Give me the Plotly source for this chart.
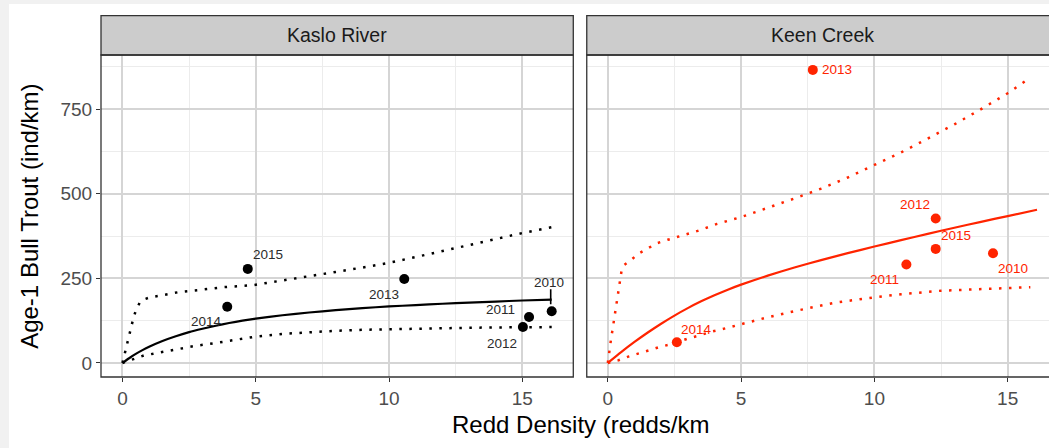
import plotly.graph_objects as go

# ---- observed points (redd density vs age-1 density) ----
years = ["2010", "2011", "2012", "2013", "2014", "2015"]

kaslo_redds = [16.1, 15.25, 15.02, 10.57, 3.93, 4.70]
kaslo_age1 = [153, 136, 106, 248, 166, 278]

keen_redds = [14.45, 11.2, 12.3, 7.69, 2.59, 12.3]
keen_age1 = [324, 291, 427, 866, 61, 337]

# ---- fitted stock-recruit curve and bounds, Kaslo River ----
kaslo_fit_x = [0, 0.25, 0.5, 0.75, 1, 1.5, 2, 2.5, 3, 3.5, 4, 4.5, 5, 6, 7, 8, 9,
               10, 11, 12, 13, 14, 15, 16.1]
kaslo_fit_y = [0, 14, 27, 38, 48, 65, 79, 91, 101, 110, 118, 125, 131, 141, 149, 156,
               162, 167, 171, 175, 178.5, 181.5, 184.5, 187]

kaslo_hi_x = [0, 0.1, 0.2, 0.29, 0.39, 0.5, 0.66, 0.85, 1.04, 1.41, 2.16, 2.91, 3.79,
              4.91, 6, 7, 8, 9, 10, 11, 12, 13, 14, 15, 16.1]
kaslo_hi_y = [0, 34, 64, 93, 126, 155, 180, 189, 194, 199, 210, 216, 224, 230, 243,
              256, 269, 282, 296, 313, 330, 348, 366, 384, 401]

kaslo_lo_x = [0, 0.4, 0.8, 1.2, 1.55, 1.9, 2.7, 3.5, 4.3, 5, 6, 7, 8, 9, 10, 11, 12,
              13, 14, 15, 16.1]
kaslo_lo_y = [0, 12, 22, 28, 33, 39, 50, 59, 69, 78, 86, 91, 95, 98, 100, 102, 103,
              104, 105, 106, 106]

# ---- fitted stock-recruit curve and bounds, Keen Creek ----
keen_fit_x = [0, 0.5, 1, 1.5, 2, 2.5, 3, 3.5, 4, 4.5, 5, 6, 7, 8, 9, 10, 11, 12, 13,
              14, 15, 16.1]
keen_fit_y = [0, 32, 62, 90, 116, 140, 162, 182, 200, 216.5, 231.5, 258, 282, 304,
              324.5, 344, 363, 381.5, 399.5, 417, 434, 452.7]

keen_hi_x = [0, 0.05, 0.12, 0.2, 0.28, 0.36, 0.44, 0.52, 0.62, 0.85, 1.15, 1.5, 1.85,
             2.25, 2.6, 3.0, 3.4, 3.75, 4.1, 5, 6, 7, 8, 9, 10, 11, 12, 13, 14, 15,
             15.85]
keen_hi_y = [0, 34, 70, 110, 155, 195, 235, 275, 290, 303, 323, 339, 354, 364, 372,
             380, 391, 401, 411, 431, 458, 486, 515, 548, 585, 622, 663, 705, 750,
             797, 843]

keen_lo_x = [0, 0.4, 0.8, 1.16, 1.54, 1.93, 2.3, 2.7, 3.08, 3.46, 3.83, 4.2, 4.58,
             4.96, 5.33, 6, 7, 7.5, 8.5, 10, 11, 12.5, 14, 15, 15.85]
keen_lo_y = [0, 8, 19.6, 27.5, 37, 47, 54, 64, 74, 81.5, 91.5, 98, 106, 115, 123,
             135, 153, 162, 178, 194, 203, 213.5, 219, 221.5, 224]

panel_titles = ["Kaslo River", "Keen Creek"]
x_ticks = [0, 5, 10, 15]
y_ticks = [0, 250, 500, 750]

# ---- styling ----
FONT = "Liberation Sans, Arial, Helvetica, sans-serif"
BLACK = "#000000"
RED = "#ff2400"
DOTS = "2.5px,7.5px"
LEFT_DOM = [0.0, 0.4982]
RIGHT_DOM = [0.5124, 1.0]

# pixel offsets of the year labels relative to their points (dx, dy up)
kaslo_label_shift = {"2010": (-3, 29), "2011": (-29, 7), "2012": (-21, -16),
                     "2013": (-20, -15), "2014": (-21, -15), "2015": (20, 14)}
keen_label_shift = {"2010": (20, -15), "2011": (-22, -15), "2012": (-21, 14),
                    "2013": (24, 0), "2014": (20, 13), "2015": (20, 13)}

fig = go.Figure()


def add_panel(xa, ya, color, fx, fy, hx, hy, lx, ly, px, py):
    fig.add_trace(go.Scatter(x=hx, y=hy, xaxis=xa, yaxis=ya, mode="lines",
                             line=dict(color=color, width=2.5, dash=DOTS),
                             hoverinfo="skip", showlegend=False))
    fig.add_trace(go.Scatter(x=lx, y=ly, xaxis=xa, yaxis=ya, mode="lines",
                             line=dict(color=color, width=2.5, dash=DOTS),
                             hoverinfo="skip", showlegend=False))
    fig.add_trace(go.Scatter(x=fx, y=fy, xaxis=xa, yaxis=ya, mode="lines",
                             line=dict(color=color, width=2.2, shape="spline",
                                       smoothing=0.5),
                             hoverinfo="skip", showlegend=False))
    fig.add_trace(go.Scatter(x=px, y=py, xaxis=xa, yaxis=ya, mode="markers",
                             marker=dict(color=color, size=10),
                             text=years, showlegend=False))


add_panel("x", "y", BLACK, kaslo_fit_x, kaslo_fit_y, kaslo_hi_x, kaslo_hi_y,
          kaslo_lo_x, kaslo_lo_y, kaslo_redds, kaslo_age1)
add_panel("x2", "y2", RED, keen_fit_x, keen_fit_y, keen_hi_x, keen_hi_y,
          keen_lo_x, keen_lo_y, keen_redds, keen_age1)

annotations = []
for yr, xv, yv in zip(years, kaslo_redds, kaslo_age1):
    dx, dy = kaslo_label_shift[yr]
    annotations.append(dict(x=xv, y=yv, xref="x", yref="y", text=yr, showarrow=False,
                            xshift=dx, yshift=dy,
                            font=dict(family=FONT, size=13.5, color="#2b2b2b")))
for yr, xv, yv in zip(years, keen_redds, keen_age1):
    dx, dy = keen_label_shift[yr]
    annotations.append(dict(x=xv, y=yv, xref="x2", yref="y2", text=yr, showarrow=False,
                            xshift=dx, yshift=dy,
                            font=dict(family=FONT, size=13.5, color=RED)))

# facet strip titles
for title, dom_center in zip(panel_titles, [0.2491, 0.7613]):
    annotations.append(dict(x=dom_center, y=1.0608, xref="paper", yref="paper",
                            text=title, showarrow=False, xanchor="center",
                            yanchor="middle",
                            font=dict(family=FONT, size=19.5, color="#1a1a1a")))

# axis titles
annotations.append(dict(x=0.5053, y=-0.148, xref="paper", yref="paper",
                        text="Redd Density (redds/km", showarrow=False,
                        xanchor="center", yanchor="middle",
                        font=dict(family=FONT, size=24, color="#000000")))
annotations.append(dict(x=-0.0749, y=0.5005, xref="paper", yref="paper",
                        text="Age-1 Bull Trout (ind/km)", showarrow=False,
                        textangle=-90, xanchor="center", yanchor="middle",
                        font=dict(family=FONT, size=24, color="#000000")))

shapes = [
    # light page frame along the top and left edges
    dict(type="rect", xref="paper", yref="paper", x0=-0.12, x1=-0.0970, y0=-0.4,
         y1=1.4, fillcolor="#f1f1f1", line=dict(width=0), layer="below"),
    dict(type="rect", xref="paper", yref="paper", x0=-0.12, x1=1.1, y0=1.1582,
         y1=1.4, fillcolor="#f1f1f1", line=dict(width=0), layer="below"),
]
for dom in (LEFT_DOM, [RIGHT_DOM[0], 1.03]):
    # strip box
    shapes.append(dict(type="rect", xref="paper", yref="paper", x0=dom[0], x1=dom[1],
                       y0=1.0, y1=1.122, fillcolor="#cccccc",
                       line=dict(color="#333333", width=1.3), layer="above"))
    # panel border
    shapes.append(dict(type="rect", xref="paper", yref="paper", x0=dom[0], x1=dom[1],
                       y0=0.0, y1=1.0, fillcolor="rgba(0,0,0,0)",
                       line=dict(color="#333333", width=1.3), layer="above"))

# leader line from the 2010 label down to its point (Kaslo)
shapes.append(dict(type="line", xref="x", yref="y", xsizemode="pixel",
                   ysizemode="pixel", xanchor=kaslo_redds[0], yanchor=kaslo_age1[0],
                   x0=-1, x1=-1, y0=7, y1=22,
                   line=dict(color="#000000", width=1.6)))

axis_common = dict(
    tickvals=x_ticks, ticks="outside", ticklen=4, tickwidth=1.1, tickcolor="#333333",
    tickfont=dict(family=FONT, size=19, color="#4d4d4d"),
    showgrid=True, gridcolor="#d5d5d5", gridwidth=1.5,
    minor=dict(tickvals=[2.5, 7.5, 12.5], showgrid=True, gridcolor="#ececec",
               gridwidth=1, ticks=""),
    zeroline=False, showline=False,
)
yaxis_common = dict(
    range=[-41.5, 910], tickvals=y_ticks, ticklen=4, tickwidth=1.1,
    tickcolor="#333333", tickfont=dict(family=FONT, size=19, color="#4d4d4d"),
    showgrid=True, gridcolor="#d5d5d5", gridwidth=1.5,
    minor=dict(tickvals=[125, 375, 625, 875], showgrid=True, gridcolor="#ececec",
               gridwidth=1, ticks=""),
    zeroline=False, showline=False,
)

fig.update_layout(
    width=1049, height=448, autosize=False,
    margin=dict(l=101, r=0, t=55, b=71, pad=0),
    paper_bgcolor="#ffffff", plot_bgcolor="#ffffff",
    font=dict(family=FONT),
    xaxis=dict(domain=LEFT_DOM, range=[-0.805, 16.91], anchor="y", **axis_common),
    xaxis2=dict(domain=RIGHT_DOM, range=[-0.79, 16.55], anchor="y2", **axis_common),
    yaxis=dict(domain=[0, 1], anchor="x", ticks="outside", **yaxis_common),
    yaxis2=dict(domain=[0, 1], anchor="x2", matches="y", showticklabels=False,
                ticks="", **yaxis_common),
    annotations=annotations,
    shapes=shapes,
    showlegend=False,
)

fig.write_html("out.html")
